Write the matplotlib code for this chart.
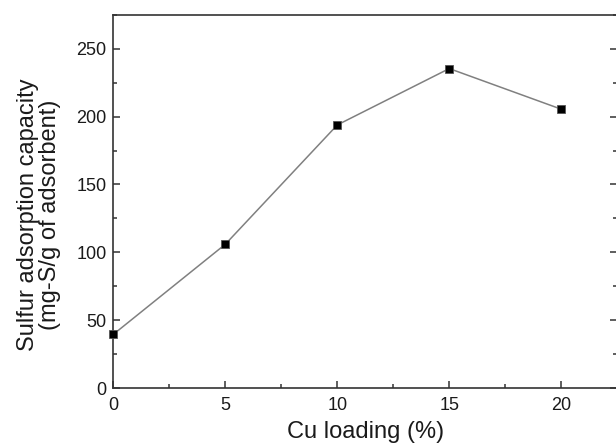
import matplotlib
matplotlib.use("Agg")
import matplotlib.pyplot as plt

cu_loading = [0, 5, 10, 15, 20]
capacity = [39.7, 106, 193.8, 235.3, 205.4]
x_ticks = [0, 5, 10, 15, 20]
y_ticks = [0, 50, 100, 150, 200, 250]

plt.rcParams['font.family'] = ['Liberation Sans', 'DejaVu Sans']

fig = plt.figure(figsize=(6.16, 4.47), dpi=100)
ax = fig.add_axes([0.184, 0.1313, 0.818, 0.836])

ax.plot(cu_loading, capacity, color='#808080', linewidth=1.1, marker='s',
        markersize=6, markerfacecolor='black', markeredgecolor='#555555',
        markeredgewidth=0.6, clip_on=False, zorder=3)

ax.set_xlim(0, 22.5)
ax.set_ylim(0, 275)
ax.set_xticks(x_ticks)
ax.set_yticks(y_ticks)
ax.set_xticks([2.5, 7.5, 12.5, 17.5, 22.5], minor=True)
ax.set_yticks([25, 75, 125, 175, 225, 275], minor=True)
ax.tick_params(which='both', direction='in', top=False, right=True,
               width=1.1, color='#333333', labelsize=13, labelcolor='#1a1a1a')
ax.tick_params(which='major', length=5)
ax.tick_params(which='minor', length=3)
ax.tick_params(axis='x', pad=6)
ax.tick_params(axis='y', pad=5)
for s in ax.spines.values():
    s.set_linewidth(1.2)
    s.set_color('#333333')

ax.set_xlabel('Cu loading (%)', fontsize=17, color='#1a1a1a', labelpad=5)
ax.set_ylabel('Sulfur adsorption capacity\n(mg-S/g of adsorbent)', fontsize=17,
              color='#1a1a1a', linespacing=1.0)
ax.yaxis.set_label_coords(-0.104, 0.464)

fig.savefig('out.png', dpi=100)
